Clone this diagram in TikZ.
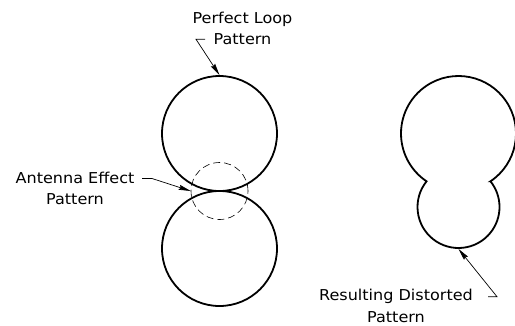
\documentclass[tikz,border=0pt]{standalone}
\usepackage{fontspec}
\newfontfamily\lblfont[FakeStretch=1.07]{DejaVu Sans}
\usetikzlibrary{arrows.meta}
\begin{document}
\begin{tikzpicture}[x=1pt,y=-1pt,
  loop/.style={circle,draw,line width=1.8pt,inner sep=0pt,minimum size=115pt},
  effect/.style={circle,draw,line width=0.6pt,dash pattern=on 7pt off 4pt,inner sep=0pt,minimum size=57pt},
  lbl/.style={align=center,inner sep=0pt,font=\lblfont\fontsize{15}{21.5}\selectfont},
  leader/.style={line width=0.7pt,-{Stealth[length=12pt,width=5pt,inset=1.5pt]}},
  distorted/.style={line width=1.8pt,line join=miter}]
\useasboundingbox (0,0) rectangle (515,325);
% left: two perfect loops and antenna effect
\node[loop] (upper) at (219.5,133.5) {};
\node[loop] (lower) at (219.5,248.5) {};
\node[effect] (antenna) at (219.5,191) {};
% right: resulting distorted pattern (math-style axes, origin at upper lobe centre)
\begin{scope}[shift={(458.5,133.5)},x=1pt,y=1pt]
  \draw[distorted] (31.95,-47.81) arc[start angle=-56.25,end angle=236.25,radius=57.5pt]
    arc[start angle=141.2,end angle=398.8,radius=41pt] -- cycle;
\end{scope}
\coordinate (distbot) at (458.5,248.9);
% labels
\node[lbl] (pl) at (242.5,28.3) {Perfect Loop\\Pattern};
\node[lbl] (ae) at (75,188.3) {Antenna Effect\\Pattern};
\node[lbl] (rd) at (396,306) {Resulting Distorted\\Pattern};
% leader ticks
\coordinate (plt) at (205,39.3);
\coordinate (aet) at (142,178.5);
\coordinate (rdt) at (488,296.7);
\draw[leader] (plt) -- ++(-9,0) -- (upper.north);
\draw[leader] (aet) -- ++(10,0) -- (antenna.west);
\draw[leader] (rdt) -- ++(9,0) -- (distbot);
\end{tikzpicture}
\end{document}
